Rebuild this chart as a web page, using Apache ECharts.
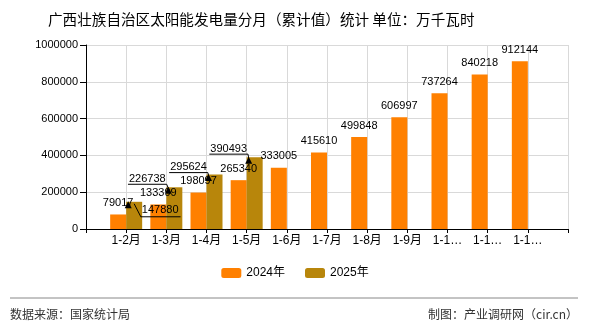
<!DOCTYPE html>
<html>
<head>
<meta charset="utf-8">
<script src="https://cdn.jsdelivr.net/npm/echarts@6/dist/echarts.min.js"></script>
<style>html,body{margin:0;padding:0;background:#fff;}#c{width:590px;height:330px;}</style>
</head>
<body>
<div id="c"></div>
<script>
const categories = ['1-2月','1-3月','1-4月','1-5月','1-6月','1-7月','1-8月','1-9月','1-10月','1-11月','1-12月'];
const values2024 = [79017,133399,198097,265340,333005,415610,499848,606997,737264,840218,912144];
const values2025 = [147880,226738,295624,390493];
const seriesNames = ['2024年','2025年'];
// label offsets (style only) for the 2025 labels, as seen in the reference
const labelShift2025 = [[26,20],[-27,3],[-26,4],[-26,3]];

const FONT = '"Liberation Sans","Noto Sans CJK SC",sans-serif';
const axisCats = [''].concat(categories).concat(['']);
function pad(arr){ const out=['-']; for(let i=0;i<categories.length;i++){ out.push(i<arr.length?arr[i]:'-'); } out.push('-'); return out; }

const guides = {};
const chart = echarts.init(document.getElementById('c'), null, {renderer:'canvas'});
const labelCfg = {show:true, position:'top', color:'#000', fontSize:11, fontFamily:FONT, distance:6};
const baseGraphic = [
  {id:'sep', type:'line', shape:{x1:10, y1:298, x2:578, y2:298}, style:{stroke:'#888', lineWidth:1}},
  {id:'src', type:'text', left:10, top:308, style:{text:'数据来源：国家统计局', fill:'#333', font:'12px "Noto Sans CJK SC",sans-serif'}},
  {id:'mk', type:'text', right:12, top:308, style:{text:'制图：产业调研网（cir.cn）', fill:'#333', font:'12px "Noto Sans CJK SC",sans-serif'}}
];
const option = {
  animation:false,
  backgroundColor:'#fff',
  title:{text:'广西壮族自治区太阳能发电量分月（累计值）统计 单位：万千瓦时', left:43, top:7,
    textStyle:{fontSize:14.6, fontWeight:'normal', color:'#000', fontFamily:'"Noto Sans CJK SC",sans-serif'}},
  grid:{left:86, right:22, top:45, bottom:101},
  legend:{data:seriesNames, bottom:46, left:'center', itemWidth:20, itemHeight:10, itemGap:20,
    textStyle:{fontSize:12, color:'#000', fontFamily:FONT}},
  xAxis:{type:'category', data:axisCats, boundaryGap:false,
    axisLine:{lineStyle:{color:'#000'}}, axisTick:{show:true, lineStyle:{color:'#000'}, length:4},
    splitLine:{show:true, lineStyle:{color:'#d9d9d9'}},
    axisLabel:{interval:0, color:'#000', fontSize:12, fontFamily:FONT, width:32, overflow:'truncate', ellipsis:'…', margin:6}},
  yAxis:{type:'value', min:0, max:1000000, interval:200000,
    axisLine:{show:true, lineStyle:{color:'#000'}}, axisTick:{show:true, lineStyle:{color:'#000'}, length:6},
    splitLine:{lineStyle:{color:'#d9d9d9'}},
    axisLabel:{color:'#000', fontSize:11, fontFamily:FONT, margin:8, formatter:function(v){return String(v);}}},
  series:[
    {name:seriesNames[0], type:'bar', data:pad(values2024), barWidth:16, barGap:'0%', itemStyle:{color:'#FF8000'},
      label:labelCfg},
    {name:seriesNames[1], type:'bar', data:pad(values2025), barWidth:16, itemStyle:{color:'#B8860B'},
      label:labelCfg,
      labelLayout:function(p){
        const s = labelShift2025[p.dataIndex-1];
        if(!s) return {};
        const lr = p.labelRect, r = p.rect;
        const nx = lr.x + s[0], ny = lr.y + s[1], w = lr.width, h = lr.height;
        const by = ny + h;
        let pts;
        if (s[0] < 0) pts = [[nx - 1, by],[nx + w + 1, by],[r.x + 2, r.y + 1]];
        else pts = [[r.x + r.width/2, r.y + 2],[nx - 1, by + 1],[nx + w + 2, by + 1]];
        guides[p.dataIndex] = pts;
        return {dx:s[0], dy:s[1]};
      },
      markPoint:{symbol:'triangle', symbolSize:[7,7], symbolOffset:[-6,3], silent:true,
        itemStyle:{color:'#000'}, label:{show:false},
        data:values2025.map(function(v,i){return {coord:[i+1, v]};})}
    }
  ],
  graphic:baseGraphic
};
chart.setOption(option);
const extra = Object.keys(guides).map(function(k){
  return {id:'g'+k, type:'polyline', z:10, shape:{points:guides[k]}, style:{stroke:'#000', lineWidth:1, fill:null}};
});
chart.setOption({graphic:baseGraphic.concat(extra)});
</script>
</body>
</html>
